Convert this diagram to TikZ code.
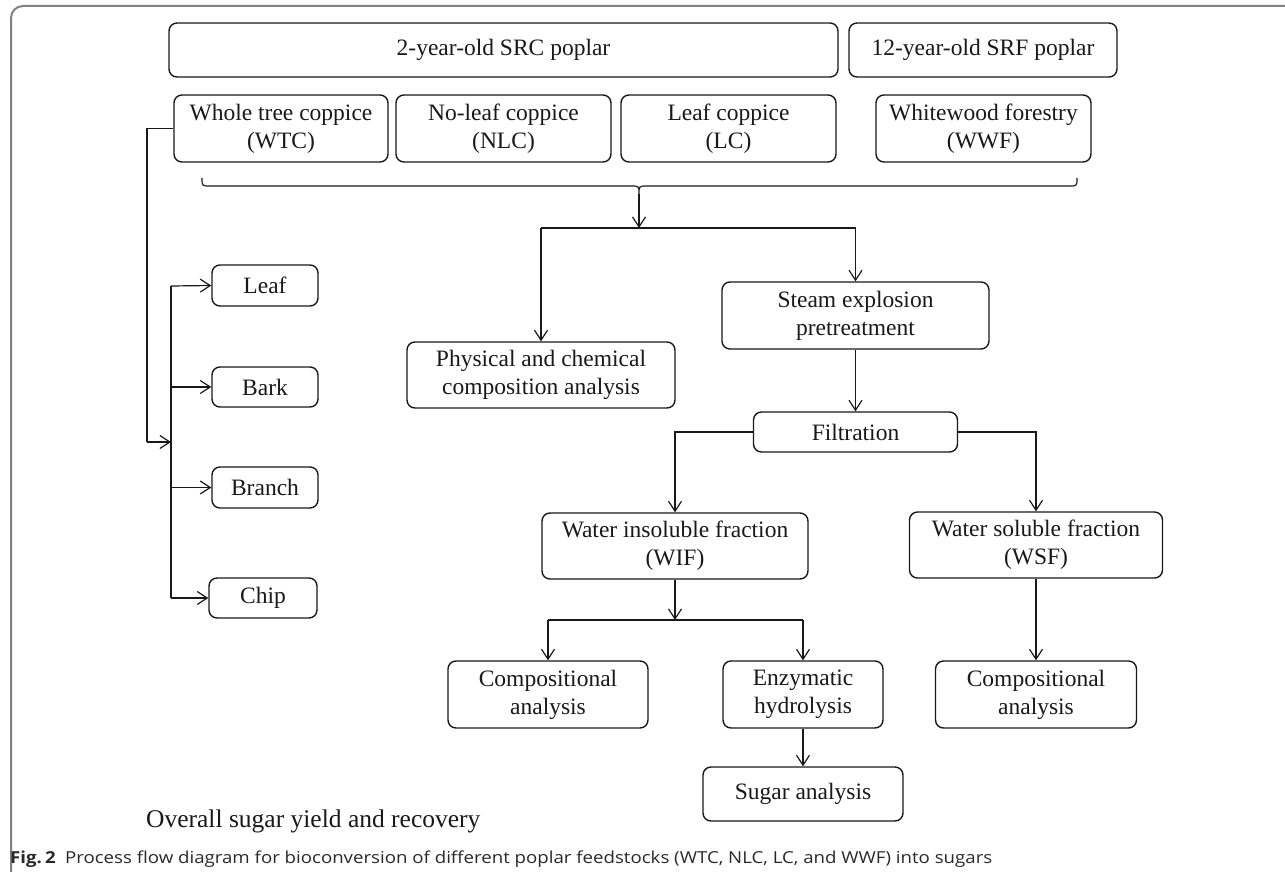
\documentclass[tikz,border=0pt]{standalone}
\usepackage{fontspec}
\usepackage{graphicx}
\setmainfont{Liberation Serif}
\newfontfamily\capfont{Open Sans}
\usetikzlibrary{arrows.meta}
\definecolor{ink}{RGB}{25,25,25}
\definecolor{framegray}{RGB}{128,128,128}
\definecolor{capgray}{RGB}{40,40,40}
\begin{document}
\begin{tikzpicture}[x=1pt,y=-1pt,
  box/.style={draw=ink, line width=1.4pt, rounded corners=8pt, align=center, inner sep=0pt,
              font=\fontsize{23.5}{28}\selectfont, text=ink},
  conn/.style={draw=ink, line width=1.2pt},
  arr/.style={conn, -{Straight Barb[length=10pt,width=13pt,line width=1.2pt]}}
]
\useasboundingbox (0,0) rectangle (1285,872);
% outer frame
\draw[framegray, line width=2pt, rounded corners=12pt] (11,872) -- (11,6) -- (1285,6);

% top boxes
\node[box, minimum width=669pt, minimum height=54pt] (src) at (503.5,50) {2-year-old SRC poplar};
\node[box, minimum width=268pt, minimum height=54pt] (srf) at (983,50) {12-year-old SRF poplar};
\node[box, minimum width=214pt, minimum height=67pt] (wtc) at (281,128.5) {Whole tree coppice\\(WTC)};
\node[box, minimum width=215pt, minimum height=67pt] (nlc) at (503.5,128.5) {No-leaf coppice\\(NLC)};
\node[box, minimum width=215pt, minimum height=67pt] (lc) at (728.5,128.5) {Leaf coppice\\(LC)};
\node[box, minimum width=215pt, minimum height=67pt] (wwf) at (983.5,128.5) {Whitewood forestry\\(WWF)};

% left parts
\node[box, minimum width=106pt, minimum height=41pt] (leaf) at (265,285.5) {Leaf};
\node[box, minimum width=106pt, minimum height=40pt] (bark) at (265,387) {Bark};
\node[box, minimum width=106pt, minimum height=41pt] (branch) at (265,487.5) {Branch};
\node[box, minimum width=108pt, minimum height=40pt] (chip) at (263,598) {Chip};

% process
\node[box, minimum width=268pt, minimum height=66pt] (phys) at (541,375) {Physical and chemical\\composition analysis};
\node[box, minimum width=267pt, minimum height=67pt] (steam) at (855.5,315.5) {Steam explosion\\pretreatment};
\node[box, minimum width=204pt, minimum height=40pt] (filt) at (855.5,432) {Filtration};
\node[box, minimum width=266pt, minimum height=66pt] (wif) at (675,546) {Water insoluble fraction\\(WIF)};
\node[box, minimum width=253pt, minimum height=66pt] (wsf) at (1036,545) {Water soluble fraction\\(WSF)};
\node[box, minimum width=200pt, minimum height=67pt] (comp1) at (548,694.5) {Compositional\\analysis};
\node[box, minimum width=160pt, minimum height=67pt] (enz) at (803,694.5) {Enzymatic\\hydrolysis};
\node[box, minimum width=200pt, minimum height=54pt] (sugar) at (803,794) {Sugar analysis};
\node[box, minimum width=201pt, minimum height=67pt] (comp2) at (1036,694.5) {Compositional\\analysis};

% free text
\node[anchor=base west, inner sep=0pt, text=ink, font=\fontsize{25.5}{30}\selectfont] (overall) at (146,827) {Overall sugar yield and recovery};
\node[anchor=base west, inner sep=0pt, text=capgray] (cap) at (10,863)
  {\resizebox{982pt}{\height}{\capfont\fontsize{16.5}{20}\selectfont\textbf{Fig.\,2}\enspace Process flow diagram for bioconversion of different poplar feedstocks (WTC, NLC, LC, and WWF) into sugars}};

% left connectors
\coordinate (lx) at (147,442);
\coordinate (bus) at (171,442);
\coordinate (bustop) at (171,286);
\coordinate (busbot) at (171,598);
\draw[conn] (wtc.west) -- (wtc.west -| lx) -- (lx);
\draw[arr] (lx) -- (bus);
\draw[conn] (bustop) -- (busbot);
\draw[arr] (bustop) -- (leaf.west);
\draw[arr] (bark.west -| bus) -- (bark.west);
\draw[arr] (branch.west -| bus) -- (branch.west);
\draw[arr] (busbot) -- (chip.west);

% brace
\coordinate (bl) at (202,178);
\coordinate (tip) at (639,194);
\coordinate (br) at (1077,178);
\coordinate (split) at (639,228);
\draw[conn] (bl) .. controls (202,186) .. (210,186) -- (631,186) .. controls (639,186) .. (tip)
            .. controls (639,186) .. (647,186) -- (1069,186) .. controls (1077,186) .. (br);
\draw[arr] (tip) -- (split);
\draw[conn] (phys.north |- split) -- (steam.north |- split);
\draw[arr] (phys.north |- split) -- (phys.north);
\draw[arr] (steam.north |- split) -- (steam.north);

% main chain
\draw[arr] (steam.south) -- (filt.north);
\draw[arr] (filt.west) -- (filt.west -| wif.north) -- (wif.north);
\draw[arr] (filt.east) -- (filt.east -| wsf.north) -- (wsf.north);
\coordinate (wsplit) at (675,620);
\draw[arr] (wif.south) -- (wsplit);
\draw[conn] (comp1.north |- wsplit) -- (enz.north |- wsplit);
\draw[arr] (comp1.north |- wsplit) -- (comp1.north);
\draw[arr] (enz.north |- wsplit) -- (enz.north);
\draw[arr] (enz.south) -- (sugar.north);
\draw[arr] (wsf.south) -- (comp2.north);
\end{tikzpicture}
\end{document}
